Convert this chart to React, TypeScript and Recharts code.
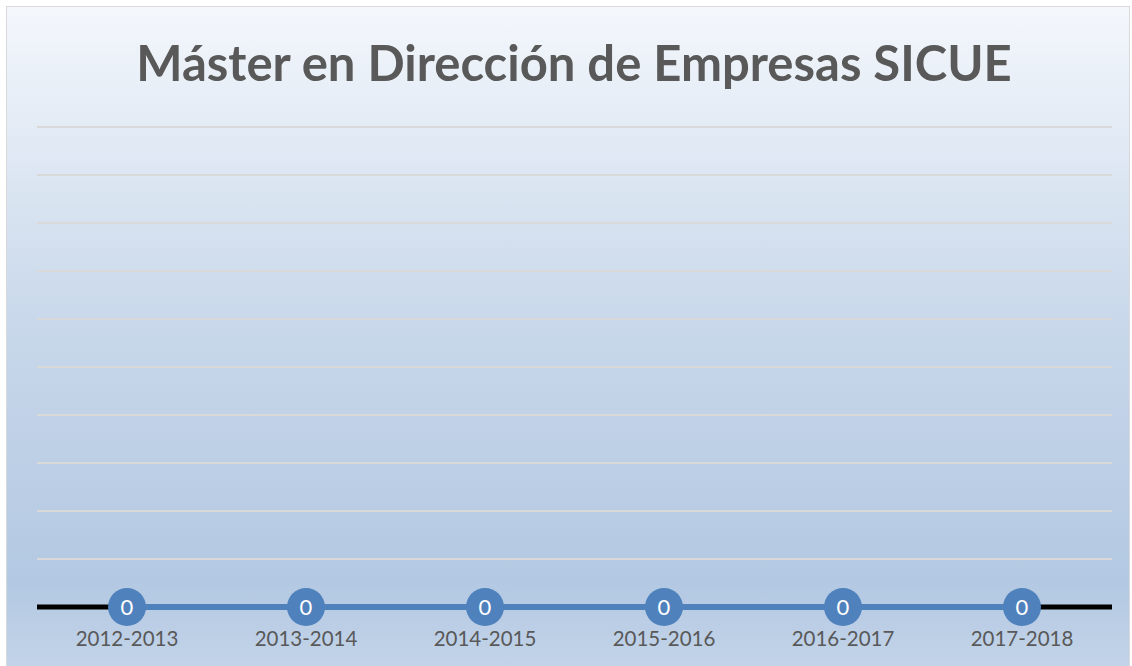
import React from 'react';
import { LineChart, Line, XAxis, YAxis, CartesianGrid, LabelList } from 'recharts';

const cursos = ['2012-2013', '2013-2014', '2014-2015', '2015-2016', '2016-2017', '2017-2018'];
const alumnos = [0, 0, 0, 0, 0, 0];
const yTicks = [0, 1, 2, 3, 4, 5, 6, 7, 8, 9, 10];

const data = cursos.map((curso, i) => ({ curso, alumnos: alumnos[i] }));

const FONT = 'Lato, "Open Sans", sans-serif';

const Tick = ({ x, y, payload }: any) => (
    <text x={x} y={y + 31} textAnchor="middle" fill="#595959" fontSize={20.5} fontFamily={FONT}>
        {payload.value}
    </text>
);

const Dot = ({ cx, cy }: any) => <circle cx={cx} cy={cy} r={19} fill="#4f81bd" />;

const ValueLabel = ({ x, y, value }: any) => (
    <text x={x} y={y + 8} textAnchor="middle" fill="#ffffff" fontSize={22} fontFamily={FONT}>
        {value}
    </text>
);

export default function App() {
    return (
        <div style={{ position: 'absolute', left: 0, top: 0, width: 1132, height: 666, overflow: 'hidden', background: '#ffffff' }}>
            <div
                style={{
                    position: 'absolute',
                    left: 6,
                    top: 6,
                    width: 1124,
                    height: 670,
                    border: '1px solid #d9d9d9',
                    boxSizing: 'border-box',
                    background: 'linear-gradient(to bottom, #f4f7fc 0%, #cad9eb 45%, #b3c8e2 86%, #c4d5e9 100%)',
                }}
            >
                <div
                    style={{
                        position: 'absolute',
                        left: 0,
                        top: 24,
                        width: 1134,
                        textAlign: 'center',
                        fontFamily: FONT,
                        fontWeight: 700,
                        fontSize: 49,
                        color: '#595959',
                        lineHeight: '62px',
                    }}
                >
                    Máster en Dirección de Empresas SICUE
                </div>
                <LineChart width={1124} height={660} data={data} margin={{ top: 120, right: 19, bottom: 20, left: 30 }}>
                    <CartesianGrid vertical={false} stroke="#d9d9d9" strokeWidth={2} />
                    <XAxis
                        dataKey="curso"
                        height={40}
                        padding={{ left: 90, right: 90 }}
                        axisLine={{ stroke: '#000000', strokeWidth: 5 }}
                        tickLine={false}
                        tick={<Tick />}
                        interval={0}
                        zIndex={300}
                    />
                    <YAxis hide domain={[0, 10]} ticks={yTicks} />
                    <Line
                        dataKey="alumnos"
                        stroke="#4f81bd"
                        strokeWidth={6}
                        dot={<Dot />}
                        activeDot={false}
                        isAnimationActive={false}
                        zIndex={600}
                    >
                        <LabelList dataKey="alumnos" content={<ValueLabel />} zIndex={700} />
                    </Line>
                </LineChart>
            </div>
        </div>
    );
}
